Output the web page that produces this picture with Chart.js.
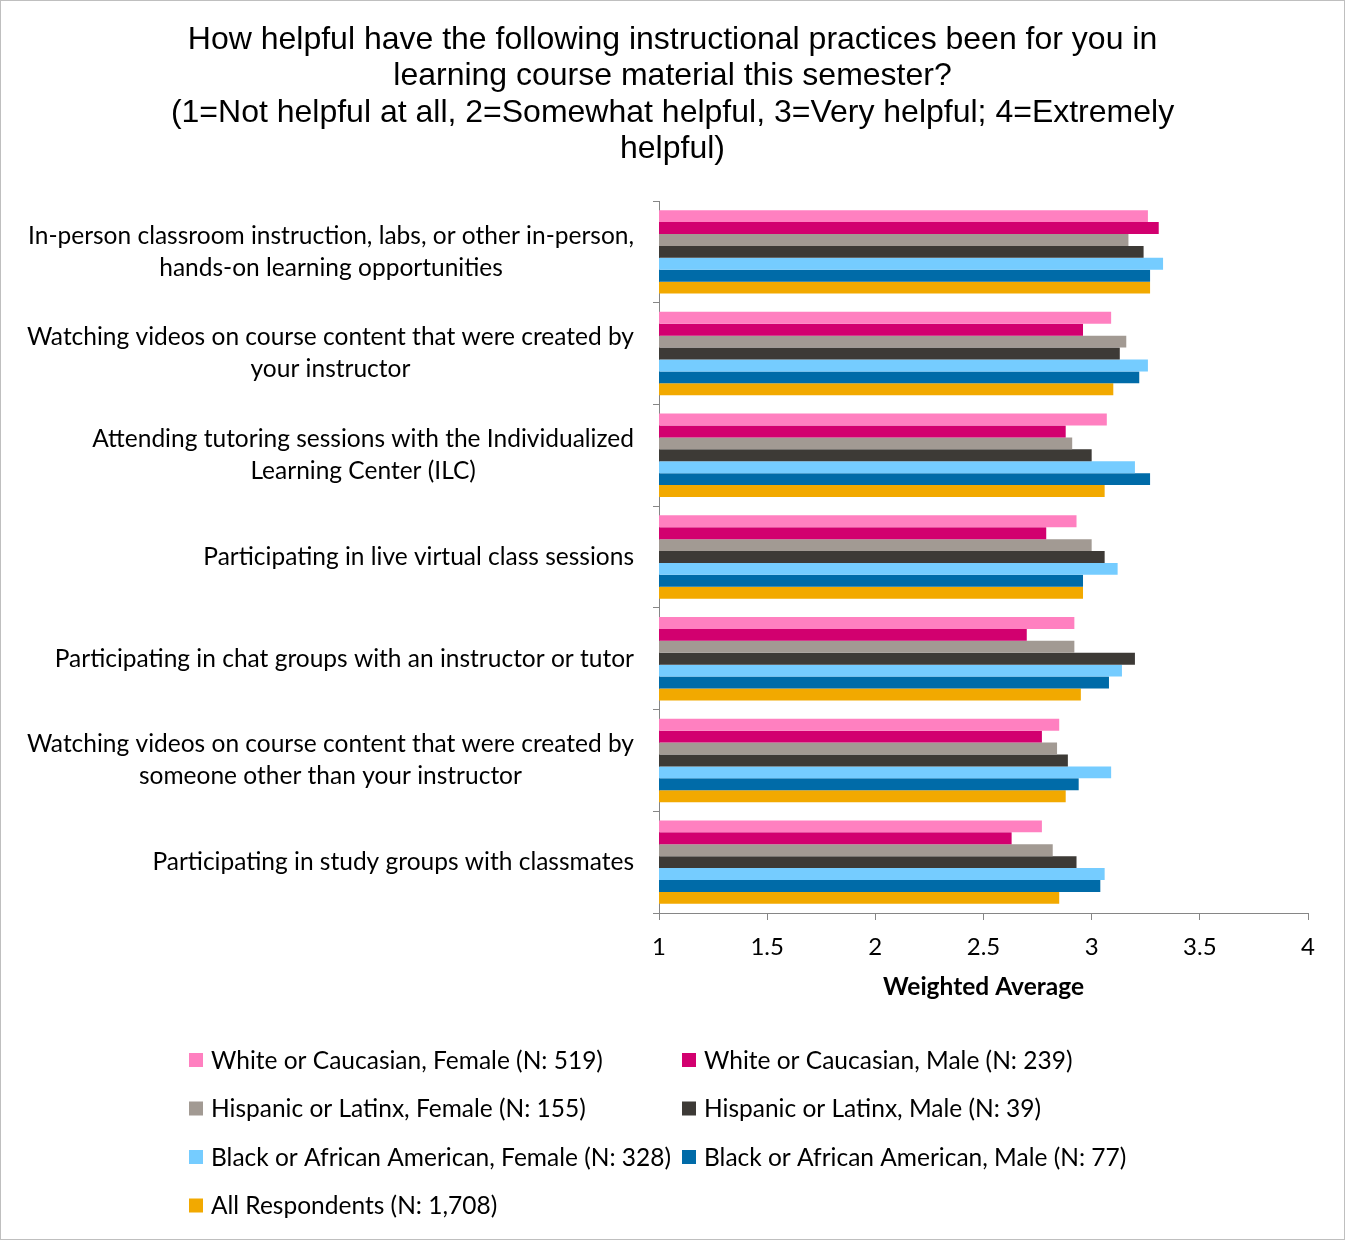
<!DOCTYPE html>
<html>
<head>
<meta charset="utf-8">
<script src="https://cdn.jsdelivr.net/npm/chart.js@4/dist/chart.umd.min.js"></script>
<style>
  html, body { margin: 0; padding: 0; background: #fff; }
  #wrap { position: relative; width: 1345px; height: 1240px; }
  #frame { position: absolute; left: 0; top: 0; width: 1345px; height: 1240px; box-sizing: border-box; border: 1px solid #bfbfbf; pointer-events: none; }
</style>
</head>
<body>
<div id="wrap">
  <canvas id="myChart" width="1345" height="1240"></canvas>
  <div id="frame"></div>
</div>
<script>
const titleLines = [
  "How helpful have the following instructional practices been for you in",
  "learning course material this semester?",
  "(1=Not helpful at all, 2=Somewhat helpful, 3=Very helpful; 4=Extremely",
  "helpful)"
];

const categories = [
  ["In-person classroom instruction, labs, or other in-person,", "hands-on learning opportunities"],
  ["Watching videos on course content that were created by", "your instructor"],
  ["Attending tutoring sessions with the Individualized", "Learning Center (ILC)"],
  ["Participating in live virtual class sessions"],
  ["Participating in chat groups with an instructor or tutor"],
  ["Watching videos on course content that were created by", "someone other than your instructor"],
  ["Participating in study groups with classmates"]
];

const seriesNames = [
  "White or Caucasian, Female (N: 519)",
  "White or Caucasian, Male (N: 239)",
  "Hispanic or Latinx, Female (N: 155)",
  "Hispanic or Latinx, Male (N: 39)",
  "Black or African American, Female (N: 328)",
  "Black or African American, Male (N: 77)",
  "All Respondents (N: 1,708)"
];

const seriesColors = ["#ff80c0", "#d2006f", "#a29a93", "#3d3a36", "#75ccff", "#006ba8", "#f2a900"];

const whiteFemale = [3.26, 3.09, 3.07, 2.93, 2.92, 2.85, 2.77];
const whiteMale   = [3.31, 2.96, 2.88, 2.79, 2.70, 2.77, 2.63];
const hispFemale  = [3.17, 3.16, 2.91, 3.00, 2.92, 2.84, 2.82];
const hispMale    = [3.24, 3.13, 3.00, 3.06, 3.20, 2.89, 2.93];
const blackFemale = [3.33, 3.26, 3.20, 3.12, 3.14, 3.09, 3.06];
const blackMale   = [3.27, 3.22, 3.27, 2.96, 3.08, 2.94, 3.04];
const allResp     = [3.27, 3.10, 3.06, 2.96, 2.95, 2.88, 2.85];

const xTicks = [1, 1.5, 2, 2.5, 3, 3.5, 4];

const seriesValues = [whiteFemale, whiteMale, hispFemale, hispMale, blackFemale, blackMale, allResp];

const labelFont = "24.5px Lato";
const axisGray = "#868686";

// title centred on the whole canvas, category labels (block right aligned,
// lines centred inside it, like Excel) and a two column legend
const sidePlugin = {
  id: "sideLabels",
  afterDraw(chart) {
    const ctx = chart.ctx;
    const yScale = chart.scales.y;
    ctx.save();
    ctx.fillStyle = "#000";
    ctx.textAlign = "center";
    ctx.textBaseline = "middle";

    ctx.font = "32px 'Liberation Sans', Arial, sans-serif";
    titleLines.forEach((t, i) => ctx.fillText(t, chart.width / 2, 40 + i * 36.5));

    ctx.font = labelFont;
    const right = chart.chartArea.left - 25;
    categories.forEach((lines, i) => {
      const w = Math.max(...lines.map(l => ctx.measureText(l).width));
      const cx = right - w / 2;
      const cy = yScale.getPixelForValue(i);
      lines.forEach((l, j) => {
        ctx.fillText(l, cx, cy + (j - (lines.length - 1) / 2) * 32);
      });
    });

    ctx.textAlign = "left";
    const colX = [189, 682];
    chart.data.datasets.forEach((ds, i) => {
      const x = colX[i % 2];
      const y = 1060 + Math.floor(i / 2) * 48.5;
      ctx.fillStyle = ds.backgroundColor;
      ctx.fillRect(x, y - 7, 14, 14);
      ctx.fillStyle = "#000";
      ctx.fillText(ds.label, x + 22, y + 1);
    });
    ctx.restore();
  }
};

const ctx = document.getElementById("myChart").getContext("2d");
const chart = new Chart(ctx, {
  type: "bar",
  data: {
    labels: categories.map(c => c.join(" ")),
    datasets: seriesValues.map((vals, i) => ({
      label: seriesNames[i],
      data: vals,
      backgroundColor: seriesColors[i],
      borderWidth: 0,
      categoryPercentage: 0.82,
      barPercentage: 1.0
    }))
  },
  options: {
    responsive: false,
    animation: false,
    indexAxis: "y",
    layout: { padding: { left: 0, right: 37, top: 201, bottom: 227 } },
    plugins: {
      legend: { display: false },
      tooltip: { enabled: false },
      title: { display: false }
    },
    scales: {
      x: {
        type: "linear",
        min: 1,
        max: 4,
        afterBuildTicks: scale => { scale.ticks = xTicks.map(v => ({ value: v })); },
        afterFit: scale => { scale.height = 100; },
        grid: { drawOnChartArea: false, drawTicks: true, tickLength: 7, color: axisGray },
        border: { display: true, color: axisGray, width: 1 },
        ticks: {
          color: "#000",
          font: { family: "Lato", size: 24 },
          padding: 13,
          callback: v => String(v)
        },
        title: {
          display: true,
          text: "Weighted Average",
          color: "#000",
          font: { family: "Lato", size: 24.5, weight: "bold" },
          padding: { top: 0, bottom: 11 }
        }
      },
      y: {
        type: "category",
        offset: true,
        afterFit: scale => { scale.width = 659; },
        grid: { offset: true, drawOnChartArea: false, drawTicks: true, tickLength: 6, color: axisGray },
        border: { display: true, color: axisGray, width: 1 },
        ticks: { display: false }
      }
    }
  },
  plugins: [sidePlugin]
});
</script>
</body>
</html>
